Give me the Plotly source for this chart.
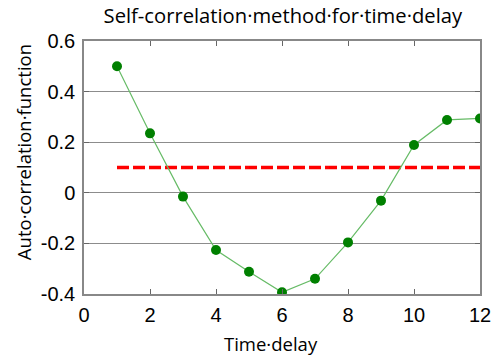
import plotly.graph_objects as go

# Time delay (lag) and the auto-correlation value at each lag
lags = [1, 2, 3, 4, 5, 6, 7, 8, 9, 10, 11, 12]
acf_values = [0.5, 0.235, -0.015, -0.226, -0.312, -0.393, -0.34, -0.196, -0.031, 0.189, 0.288, 0.294]

# Threshold line
threshold_x = [1, 12]
threshold_y = [0.1, 0.1]

x_ticks = [0, 2, 4, 6, 8, 10, 12]
y_ticks = [-0.4, -0.2, 0, 0.2, 0.4, 0.6]
y_tick_text = ["-0.4", "-0.2", "0", "0.2", "0.4", "0.6"]

fig = go.Figure()

fig.add_trace(go.Scatter(
    x=threshold_x, y=threshold_y, mode="lines",
    line=dict(color="#ff0000", width=3.5, dash="12px,4px"),
    showlegend=False, hoverinfo="skip",
))

fig.add_trace(go.Scatter(
    x=lags, y=acf_values, mode="lines+markers",
    line=dict(color="#66bb66", width=1.2),
    marker=dict(color="#008000", size=10),
    showlegend=False,
))

label_family = "Open Sans, DejaVu Sans, sans-serif"
tick_font = dict(family="Liberation Sans, Arial, sans-serif", size=20, color="#000000")

fig.update_layout(
    width=491, height=360,
    margin=dict(l=84, r=11, t=41, b=66, autoexpand=False),
    paper_bgcolor="white", plot_bgcolor="white",
    title=dict(
        text="Self-correlation·method·for·time·delay",
        font=dict(family=label_family, size=20.2, color="#000000"),
        x=0.576, xanchor="center", y=0.955, yanchor="middle",
    ),
    xaxis=dict(
        range=[0, 12], tickvals=x_ticks, ticks="inside", ticklen=5,
        tickcolor="#666666", showgrid=False, zeroline=False,
        showline=True, linecolor="#888888", linewidth=1.5, mirror="ticks",
        tickfont=tick_font, automargin=False, ticklabelstandoff=2,
        ticklabeloverflow="allow",
    ),
    yaxis=dict(
        range=[-0.4, 0.6], tickvals=y_ticks, ticktext=y_tick_text,
        ticks="inside", ticklen=5, tickcolor="#666666",
        showgrid=True, gridcolor="#8c8c8c", gridwidth=1, zeroline=False,
        showline=True, linecolor="#888888", linewidth=1.5, mirror="ticks",
        tickfont=tick_font, automargin=False, ticklabelstandoff=3,
        ticklabeloverflow="allow",
    ),
    annotations=[
        dict(text="Time·delay", xref="paper", yref="paper",
             x=0.472, y=-0.194, xanchor="center", yanchor="middle",
             showarrow=False, font=dict(family=label_family, size=18.5, color="#000000")),
        dict(text="Auto·correlation·function", xref="paper", yref="paper",
             x=-0.152, y=0.56, xanchor="center", yanchor="middle", textangle=-90,
             showarrow=False, font=dict(family=label_family, size=18.5, color="#000000")),
    ],
)

fig.write_html("out.html")
